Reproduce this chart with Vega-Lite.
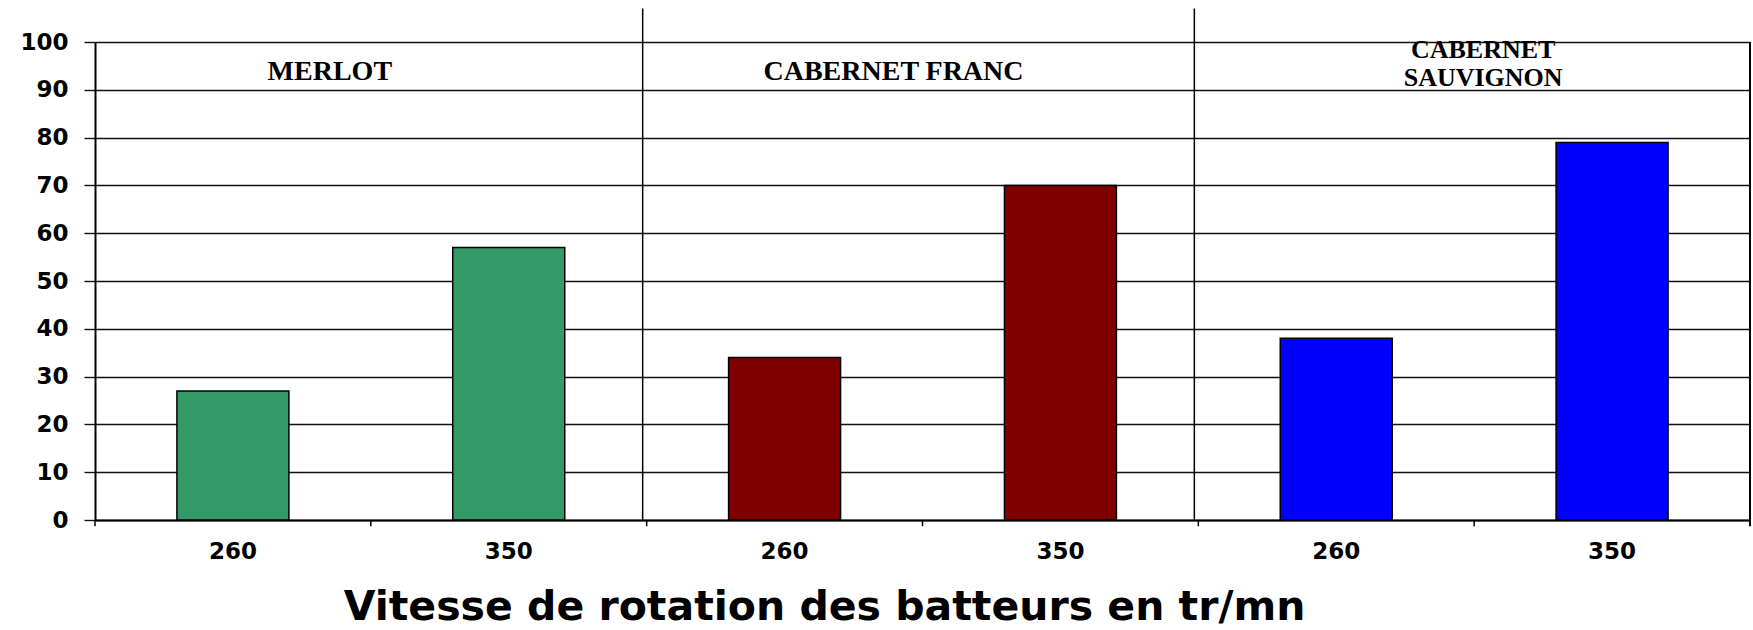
{
  "$schema": "https://vega.github.io/schema/vega-lite/v6.json",
  "width": 1655,
  "height": 478,
  "autosize": {"type": "none"},
  "padding": {"left": 95, "top": 42, "right": 3, "bottom": 110},
  "background": "white",
  "config": {"view": {"stroke": null}},
  "datasets": {
    "barres": [
      {"cepage": "MERLOT", "vitesse": "260", "cle": "MERLOT|260", "pourcentage": 27},
      {"cepage": "MERLOT", "vitesse": "350", "cle": "MERLOT|350", "pourcentage": 57},
      {"cepage": "CABERNET FRANC", "vitesse": "260", "cle": "CABERNET FRANC|260", "pourcentage": 34},
      {"cepage": "CABERNET FRANC", "vitesse": "350", "cle": "CABERNET FRANC|350", "pourcentage": 70},
      {"cepage": "CABERNET SAUVIGNON", "vitesse": "260", "cle": "CABERNET SAUVIGNON|260", "pourcentage": 38},
      {"cepage": "CABERNET SAUVIGNON", "vitesse": "350", "cle": "CABERNET SAUVIGNON|350", "pourcentage": 79}
    ],
    "groupes": [
      {"cepage": "MERLOT", "etiquette": "MERLOT", "cle": "MERLOT|260"},
      {"cepage": "CABERNET FRANC", "etiquette": "CABERNET FRANC", "cle": "CABERNET FRANC|260"},
      {"cepage": "CABERNET SAUVIGNON", "etiquette": "CABERNET\nSAUVIGNON", "cle": "CABERNET SAUVIGNON|260"}
    ]
  },
  "layer": [
    {
      "data": {"name": "barres"},
      "mark": {"type": "bar", "width": {"band": 0.406}, "stroke": "black", "strokeWidth": 1.5},
      "encoding": {
        "x": {
          "field": "cle", "type": "nominal",
          "scale": {"domain": ["MERLOT|260", "MERLOT|350", "CABERNET FRANC|260", "CABERNET FRANC|350", "CABERNET SAUVIGNON|260", "CABERNET SAUVIGNON|350"], "paddingInner": 0, "paddingOuter": 0},
          "axis": {
            "title": "Vitesse de rotation des batteurs en tr/mn",
            "titleFont": "DejaVu Sans", "titleFontSize": 41, "titleFontWeight": "bold", "titleColor": "black",
            "titleX": 729, "titleY": 99, "titleAlign": "center", "titleBaseline": "alphabetic",
            "labelExpr": "split(datum.label, '|')[1]",
            "labelFont": "DejaVu Sans", "labelFontSize": 23, "labelFontWeight": "bold", "labelColor": "black",
            "labelAngle": 0, "labelBaseline": "middle", "labelPadding": 31,
            "ticks": false, "tickSize": 0,
            "domainColor": "black", "domainWidth": 2, "grid": false
          }
        },
        "y": {
          "field": "pourcentage", "type": "quantitative",
          "scale": {"domain": [0, 100], "nice": false, "zero": true},
          "axis": {
            "title": null,
            "values": [0, 10, 20, 30, 40, 50, 60, 70, 80, 90, 100],
            "labelFont": "DejaVu Sans", "labelFontSize": 23, "labelFontWeight": "bold", "labelColor": "black",
            "labelPadding": 16,
            "grid": true, "gridColor": "#111111", "gridWidth": 1.4,
            "tickColor": "#111111", "tickSize": 11, "tickWidth": 1.4,
            "domainColor": "black", "domainWidth": 2
          }
        },
        "color": {
          "field": "cepage", "type": "nominal",
          "scale": {"domain": ["MERLOT", "CABERNET FRANC", "CABERNET SAUVIGNON"], "range": ["#339966", "#800000", "#0000FF"]},
          "legend": null
        }
      }
    },
    {
      "data": {"name": "barres"},
      "mark": {"type": "rule", "stroke": "black", "strokeWidth": 1.5},
      "encoding": {
        "x": {"field": "cle", "type": "nominal", "bandPosition": 0},
        "y": {"datum": 0, "type": "quantitative"},
        "y2": {"datum": -1.3}
      }
    },
    {
      "data": {"name": "barres"},
      "transform": [{"filter": "datum.cle == 'CABERNET SAUVIGNON|350'"}],
      "mark": {"type": "rule", "stroke": "black", "strokeWidth": 2},
      "encoding": {
        "x": {"field": "cle", "type": "nominal", "bandPosition": 1},
        "y": {"datum": -1.3, "type": "quantitative"},
        "y2": {"datum": 100}
      }
    },
    {
      "data": {"name": "groupes"},
      "transform": [{"filter": "datum.cepage != 'MERLOT'"}],
      "mark": {"type": "rule", "stroke": "black", "strokeWidth": 1.5, "xOffset": -4},
      "encoding": {
        "x": {"field": "cle", "type": "nominal", "bandPosition": 0},
        "y": {"datum": 0, "type": "quantitative"},
        "y2": {"datum": 107}
      }
    },
    {
      "data": {"name": "groupes"},
      "transform": [{"filter": "datum.cepage == 'MERLOT'"}],
      "mark": {"type": "text", "font": "Liberation Serif", "fontWeight": "bold", "fontSize": 28, "color": "black", "baseline": "middle", "align": "center", "dx": -41},
      "encoding": {
        "x": {"field": "cle", "type": "nominal", "bandPosition": 1},
        "y": {"datum": 93.8, "type": "quantitative"},
        "text": {"field": "etiquette"}
      }
    },
    {
      "data": {"name": "groupes"},
      "transform": [{"filter": "datum.cepage == 'CABERNET FRANC'"}],
      "mark": {"type": "text", "font": "Liberation Serif", "fontWeight": "bold", "fontSize": 28, "color": "black", "baseline": "middle", "align": "center", "dx": -29},
      "encoding": {
        "x": {"field": "cle", "type": "nominal", "bandPosition": 1},
        "y": {"datum": 93.8, "type": "quantitative"},
        "text": {"field": "etiquette"}
      }
    },
    {
      "data": {"name": "groupes"},
      "transform": [{"filter": "datum.cepage == 'CABERNET SAUVIGNON'"}],
      "mark": {"type": "text", "font": "Liberation Serif", "fontWeight": "bold", "fontSize": 26, "color": "black", "baseline": "middle", "align": "center", "dx": 9, "lineBreak": "\n", "lineHeight": 28},
      "encoding": {
        "x": {"field": "cle", "type": "nominal", "bandPosition": 1},
        "y": {"datum": 98.4, "type": "quantitative"},
        "text": {"field": "etiquette"}
      }
    }
  ]
}
